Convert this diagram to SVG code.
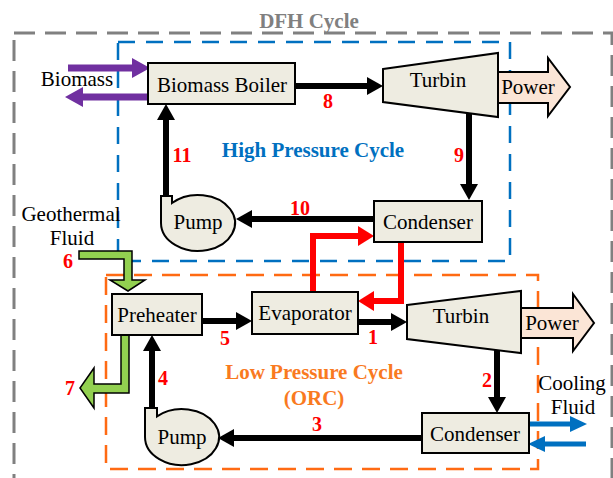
<svg xmlns="http://www.w3.org/2000/svg" width="613" height="478" viewBox="0 0 613 478">
<style>
.box{fill:#EEECE1;stroke:#000;stroke-width:2}
.t{font-family:"Liberation Serif","Times New Roman",serif;font-size:21px;fill:#000;text-anchor:middle}
.n{font-family:"Liberation Serif","Times New Roman",serif;font-size:20px;font-weight:bold;fill:#FF0000;text-anchor:middle}
.c{fill:none;stroke:#000;stroke-width:6}
.r{fill:none;stroke:#FF0000;stroke-width:6}
.p{fill:none;stroke:#7030A0;stroke-width:7}
.b{fill:none;stroke:#0070C0;stroke-width:5}
.pow{fill:#FBE5D6;stroke:#000;stroke-width:2;stroke-linejoin:miter}
.green{fill:#92D050;stroke:#000;stroke-width:1.5}
</style>
<defs>
<marker id="ak" markerUnits="userSpaceOnUse" markerWidth="16" markerHeight="18" viewBox="0 0 16 18" refX="8" refY="9" orient="auto"><path d="M0,0 L16,9 L0,18 Z" fill="#000"/></marker>
<marker id="ar" markerUnits="userSpaceOnUse" markerWidth="16" markerHeight="20" viewBox="0 0 16 20" refX="8" refY="10" orient="auto"><path d="M0,0 L16,10 L0,20 Z" fill="#FF0000"/></marker>
<marker id="ap" markerUnits="userSpaceOnUse" markerWidth="18" markerHeight="20" viewBox="0 0 18 20" refX="8" refY="10" orient="auto"><path d="M0,0 L18,10 L0,20 Z" fill="#7030A0"/></marker>
<marker id="ab" markerUnits="userSpaceOnUse" markerWidth="17" markerHeight="16" viewBox="0 0 17 16" refX="8" refY="8" orient="auto"><path d="M0,0 L17,8 L0,16 Z" fill="#0070C0"/></marker>
</defs>

<g id="frames">
<rect x="14" y="33" width="598" height="470" fill="none" stroke="#808080" stroke-width="3" stroke-dasharray="21 10"/>
<rect x="118" y="42" width="392" height="219" fill="none" stroke="#0070C0" stroke-width="2.5" stroke-dasharray="17 11"/>
<rect x="106" y="275" width="432" height="194" fill="none" stroke="#FF6A13" stroke-width="2.5" stroke-dasharray="18 10"/>
<text x="309" y="28" font-family="Liberation Serif, serif" font-size="21" font-weight="bold" fill="#808080" text-anchor="middle">DFH Cycle</text>
<text x="313" y="157" font-family="Liberation Serif, serif" font-size="21" font-weight="bold" fill="#0070C0" text-anchor="middle">High Pressure Cycle</text>
<text x="314" y="379" font-family="Liberation Serif, serif" font-size="21" font-weight="bold" fill="#F97A1F" text-anchor="middle">Low Pressure Cycle</text>
<text x="314" y="405" font-family="Liberation Serif, serif" font-size="21" font-weight="bold" fill="#F97A1F" text-anchor="middle">(ORC)</text>
</g>

<g id="connectors">
<path class="c" d="M295,86 H375" marker-end="url(#ak)"/>
<path class="c" d="M469,113 V192" marker-end="url(#ak)"/>
<path class="c" d="M374,219 H244" marker-end="url(#ak)"/>
<path class="c" d="M166,198 V112" marker-end="url(#ak)"/>
<path class="c" d="M202,321 H244" marker-end="url(#ak)"/>
<path class="c" d="M358,322 H399" marker-end="url(#ak)"/>
<path class="c" d="M497,349 V405" marker-end="url(#ak)"/>
<path class="c" d="M422,438 H226" marker-end="url(#ak)"/>
<path class="c" d="M152,410 V343" marker-end="url(#ak)"/>
<path class="r" d="M313,292 V236 H366" marker-end="url(#ar)"/>
<path class="r" d="M401,242 V301 H366" marker-end="url(#ar)"/>
<path class="p" d="M68,68 H140" marker-end="url(#ap)"/>
<path class="p" d="M148,97 H75" marker-end="url(#ap)"/>
<path class="b" d="M529,424 H578" marker-end="url(#ab)"/>
<path class="b" d="M586,444 H537" marker-end="url(#ab)"/>
<path class="green" d="M79,251 H132 V280 H145 L128,291 L110,280 H124 V259 H79 Z"/>
<path class="green" d="M121,335 H129 V393 H94 V408 L80,388 L94,368 V384 H121 Z"/>
<text class="n" x="328" y="108">8</text>
<text class="n" x="459" y="162">9</text>
<text class="n" x="300" y="215">10</text>
<text class="n" x="182" y="162">11</text>
<text class="n" x="68" y="268">6</text>
<text class="n" x="70" y="395">7</text>
<text class="n" x="225" y="345">5</text>
<text class="n" x="373" y="344">1</text>
<text class="n" x="487" y="387">2</text>
<text class="n" x="317" y="431">3</text>
<text class="n" x="163" y="385">4</text>
</g>

<g id="biomass-label"><text class="t" x="77" y="86">Biomass</text></g>
<g id="geo-label"><text class="t" x="71" y="221">Geothermal</text><text class="t" x="72" y="245">Fluid</text></g>
<g id="cooling-label"><text class="t" x="572" y="390">Cooling</text><text class="t" x="573" y="414">Fluid</text></g>

<g id="boiler"><rect class="box" x="148" y="63" width="147" height="41"/><text class="t" x="222" y="92">Biomass Boiler</text></g>
<g id="power-hp"><path class="pow" d="M498,72 H548 V58 L570,87 L548,116 V103 H498 Z"/><text class="t" x="528" y="94">Power</text></g>
<g id="turbine-hp"><polygon class="box" points="383,69 498,53 498,117 383,102"/><text class="t" x="438" y="87">Turbin</text></g>
<g id="condenser-hp"><rect class="box" x="374" y="201" width="108" height="41"/><text class="t" x="428" y="229">Condenser</text></g>
<g id="pump-hp"><path class="box" d="M161,196 H172 V203 A37,28 0 1 1 161,223 Z"/><text class="t" x="198" y="229">Pump</text></g>
<g id="preheater"><rect class="box" x="112" y="294" width="90" height="41"/><text class="t" x="157" y="322">Preheater</text></g>
<g id="evaporator"><rect class="box" x="252" y="292" width="106" height="42"/><text class="t" x="305" y="320">Evaporator</text></g>
<g id="power-lp"><path class="pow" d="M521,308 H573 V294 L594,323 L573,351 V338 H521 Z"/><text class="t" x="552" y="330">Power</text></g>
<g id="turbine-lp"><polygon class="box" points="407,305 521,291 521,353 407,339"/><text class="t" x="461" y="323">Turbin</text></g>
<g id="condenser-lp"><rect class="box" x="422" y="413" width="107" height="40"/><text class="t" x="475" y="441">Condenser</text></g>
<g id="pump-lp"><path class="box" d="M145,408 H157 V416.4 A37,28 0 1 1 145,437 Z"/><text class="t" x="182" y="444">Pump</text></g>
</svg>
